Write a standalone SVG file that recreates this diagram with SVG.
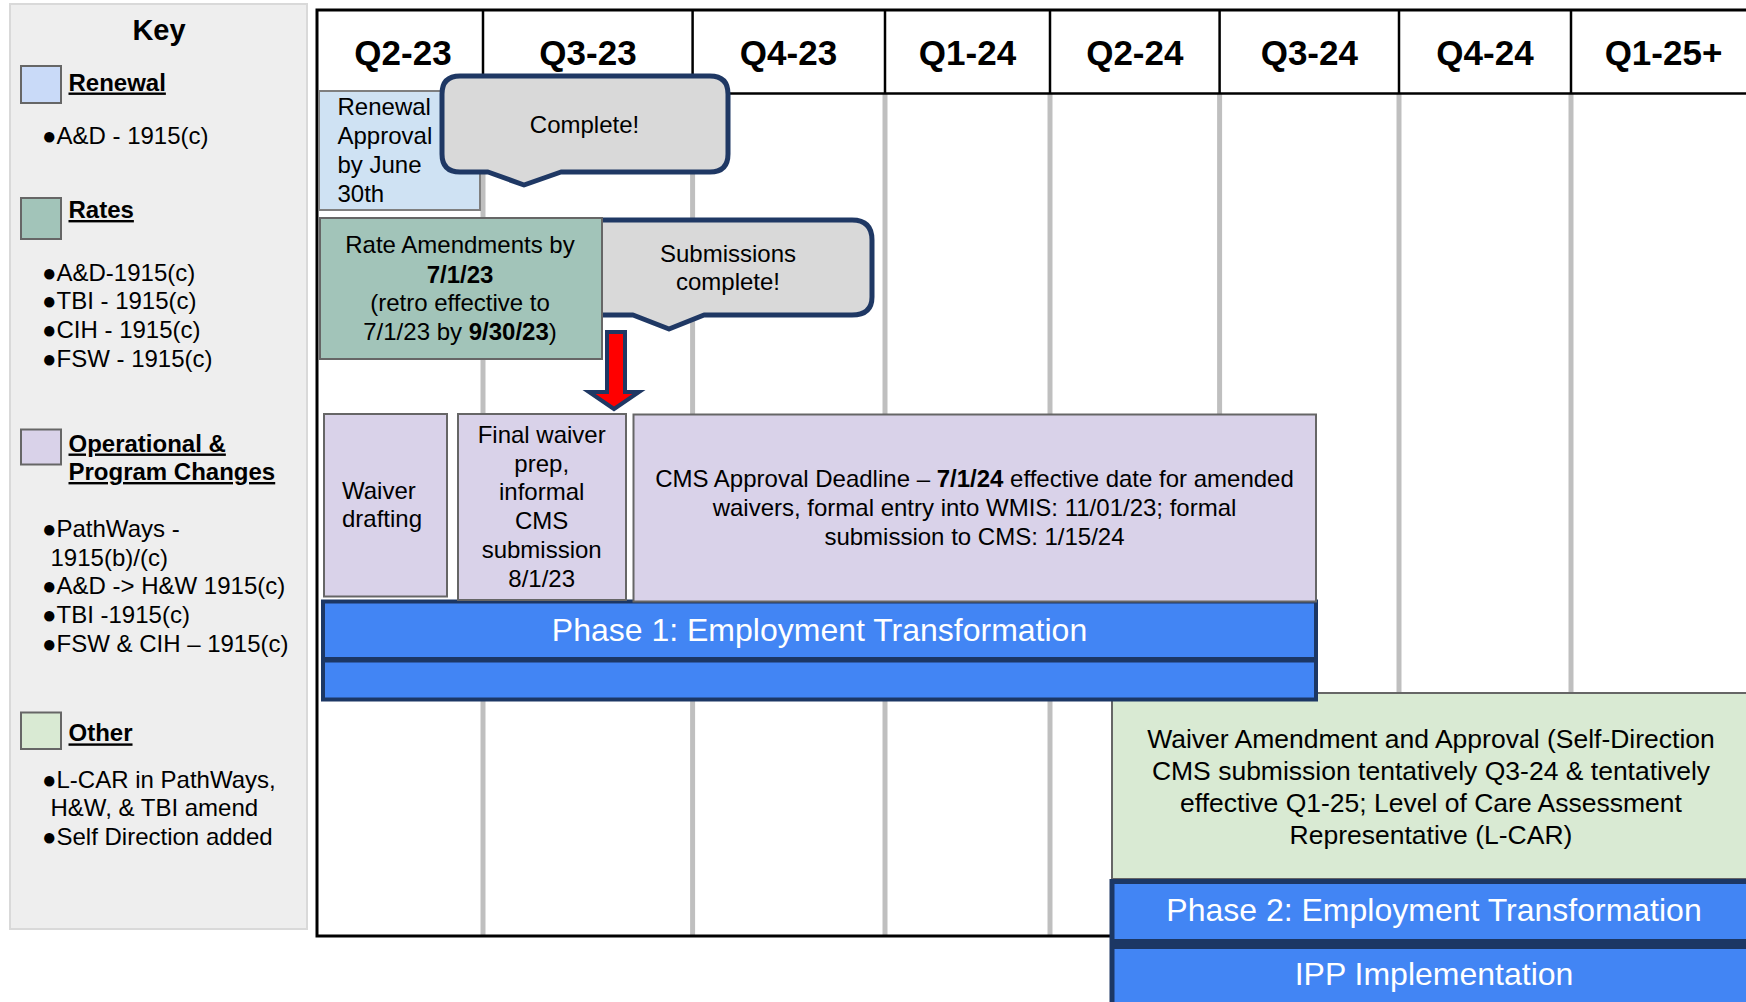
<svg xmlns="http://www.w3.org/2000/svg" width="1746" height="1002" viewBox="0 0 1746 1002">
<style>
text{font-family:"Liberation Sans",Arial,sans-serif;fill:#000}
.t{font-size:24px}
.c{text-anchor:middle}
.b{font-weight:bold}
.hd{font-size:35px;font-weight:bold;text-anchor:middle}
.lh{font-size:24px;font-weight:bold;text-decoration:underline}
.sw{stroke:#666;stroke-width:2}
.grey{stroke:#bfbfbf;stroke-width:5}
.blk{stroke:#000;stroke-width:2.5}
.callout{fill:#d9d9d9;stroke:#1f3864;stroke-width:5;stroke-linejoin:round}
.phase{fill:#4285f4;stroke:#1c3764}
.pt{font-size:32px;fill:#fff;text-anchor:middle}
.purple{fill:#d9d2e9}
</style>
<rect width="1746" height="1002" fill="#fff"/>

<g id="key">
<rect x="10" y="4" width="297" height="925" fill="#eeeeee" stroke="#d9d9d9" stroke-width="2"/>
<text x="159" y="39.5" class="b c" font-size="29">Key</text>
<rect x="21" y="66" width="40" height="37" fill="#c9daf8" class="sw"/>
<text x="68.5" y="90.5" class="lh">Renewal</text>
<text x="42" y="144" class="t">●A&amp;D - 1915(c)</text>
<rect x="21" y="198" width="40" height="41" fill="#a2c4b9" class="sw"/>
<text x="68.5" y="218" class="lh">Rates</text>
<text x="42" y="280.7" class="t">●A&amp;D-1915(c)</text>
<text x="42" y="309.3" class="t">●TBI - 1915(c)</text>
<text x="42" y="338" class="t">●CIH - 1915(c)</text>
<text x="42" y="366.7" class="t">●FSW - 1915(c)</text>
<rect x="21" y="429.5" width="40" height="35" fill="#d9d2e9" class="sw"/>
<text x="68.5" y="451.5" class="lh">Operational &amp;</text>
<text x="68.5" y="480" class="lh">Program Changes</text>
<text x="42" y="537.3" class="t">●PathWays -</text>
<text x="50.5" y="565.5" class="t">1915(b)/(c)</text>
<text x="42" y="594.3" class="t">●A&amp;D -&gt; H&amp;W 1915(c)</text>
<text x="42" y="623.2" class="t">●TBI -1915(c)</text>
<text x="42" y="652.4" class="t">●FSW &amp; CIH – 1915(c)</text>
<rect x="21" y="712.5" width="40" height="36.5" fill="#d9ead3" class="sw"/>
<text x="68.5" y="741.4" class="lh">Other</text>
<text x="42" y="787.9" class="t">●L-CAR in PathWays,</text>
<text x="50.5" y="816" class="t">H&amp;W, &amp; TBI amend</text>
<text x="42" y="845" class="t">●Self Direction added</text>
</g>

<g id="grid">
<g class="grey">
<line x1="483" y1="94" x2="483" y2="935"/>
<line x1="692.6" y1="94" x2="692.6" y2="935"/>
<line x1="885" y1="94" x2="885" y2="935"/>
<line x1="1050" y1="94" x2="1050" y2="935"/>
<line x1="1219.6" y1="94" x2="1219.6" y2="935"/>
<line x1="1399" y1="94" x2="1399" y2="935"/>
<line x1="1571" y1="94" x2="1571" y2="935"/>
</g>
<g class="blk">
<line x1="483" y1="10" x2="483" y2="93.5"/>
<line x1="692.6" y1="10" x2="692.6" y2="93.5"/>
<line x1="885" y1="10" x2="885" y2="93.5"/>
<line x1="1050" y1="10" x2="1050" y2="93.5"/>
<line x1="1219.6" y1="10" x2="1219.6" y2="93.5"/>
<line x1="1399" y1="10" x2="1399" y2="93.5"/>
<line x1="1571" y1="10" x2="1571" y2="93.5"/>
<line x1="317" y1="93.5" x2="1746" y2="93.5"/>
</g>
<path d="M1746 10 H317 V936 H1112" fill="none" stroke="#000" stroke-width="3"/>
<text x="403" y="65" class="hd">Q2-23</text>
<text x="588" y="65" class="hd">Q3-23</text>
<text x="788.5" y="65" class="hd">Q4-23</text>
<text x="967.5" y="65" class="hd">Q1-24</text>
<text x="1134.8" y="65" class="hd">Q2-24</text>
<text x="1309.3" y="65" class="hd">Q3-24</text>
<text x="1485" y="65" class="hd">Q4-24</text>
<text x="1663.5" y="65" class="hd">Q1-25+</text>
</g>

<g id="renewal">
<rect x="319" y="91" width="161" height="119" fill="#cfe2f3" stroke="#7f7f7f" stroke-width="2"/>
<text x="337.5" y="115" class="t">Renewal</text>
<text x="337.5" y="144" class="t">Approval</text>
<text x="337.5" y="173" class="t">by June</text>
<text x="337.5" y="202" class="t">30th</text>
</g>

<g id="complete-callout">
<path class="callout" d="M460 76 H710 Q728 76 728 94 V154 Q728 172 710 172 H561 L524 185 L488 172 H460 Q442 172 442 154 V94 Q442 76 460 76 Z"/>
<text x="584.5" y="133" class="t c">Complete!</text>
</g>

<g id="submissions-callout">
<path class="callout" d="M580 220 H852 Q872 220 872 240 V297 Q872 315 852 315 H704 L669 329 L633 315 H580 Q562 315 562 297 V240 Q562 220 580 220 Z"/>
<text x="728" y="262" class="t c">Submissions</text>
<text x="728" y="290" class="t c">complete!</text>
</g>

<g id="rates">
<rect x="320" y="218" width="282" height="141" fill="#a2c4b9" class="sw"/>
<text x="460" y="253" class="t c">Rate Amendments by</text>
<text x="460" y="282.5" class="t c b">7/1/23</text>
<text x="460" y="311" class="t c">(retro effective to</text>
<text x="460" y="339.5" class="t c">7/1/23 by <tspan class="b">9/30/23</tspan>)</text>
</g>

<g id="connectors">
<polygon points="607,332 625,332 625,392 639,392 614,409 589,392 607,392" fill="#ff0000" stroke="#1f3864" stroke-width="4"/>
</g>

<g id="other">
<rect x="1112" y="693" width="660" height="186" fill="#d9ead3" class="sw"/>
<text x="1431" y="748" class="c" font-size="26.5">Waiver Amendment and Approval (Self-Direction</text>
<text x="1431" y="780" class="c" font-size="26.5">CMS submission tentatively Q3-24 &amp; tentatively</text>
<text x="1431" y="812" class="c" font-size="26.5">effective Q1-25; Level of Care Assessment</text>
<text x="1431" y="844" class="c" font-size="26.5">Representative (L-CAR)</text>
</g>

<g id="phase1">
<rect x="323" y="601.5" width="993" height="57.5" class="phase" stroke-width="4"/>
<rect x="323" y="660.5" width="993" height="39" class="phase" stroke-width="4"/>
<text x="819.5" y="641" class="pt">Phase 1: Employment Transformation</text>
</g>

<g id="waiver-drafting">
<rect x="324" y="414" width="123" height="182.5" class="purple sw"/>
<text x="342" y="499.3" class="t">Waiver</text>
<text x="342" y="526.7" class="t">drafting</text>
</g>

<g id="final-waiver">
<rect x="458" y="414" width="168" height="186" class="purple sw"/>
<text x="541.7" y="443.3" class="t c">Final waiver</text>
<text x="541.7" y="471.7" class="t c">prep,</text>
<text x="541.7" y="500" class="t c">informal</text>
<text x="541.7" y="529.3" class="t c">CMS</text>
<text x="541.7" y="558.3" class="t c">submission</text>
<text x="541.7" y="587.3" class="t c">8/1/23</text>
</g>

<g id="cms-approval">
<rect x="633.5" y="414.5" width="682.5" height="187" class="purple sw"/>
<text x="974.5" y="487.3" class="t c">CMS Approval Deadline – <tspan class="b">7/1/24</tspan> effective date for amended</text>
<text x="974.5" y="516.3" class="t c">waivers, formal entry into WMIS: 11/01/23; formal</text>
<text x="974.5" y="545" class="t c">submission to CMS: 1/15/24</text>
</g>

<g id="phase2">
<rect x="1112" y="881.5" width="700" height="60" class="phase" stroke-width="5"/>
<text x="1434" y="921" class="pt">Phase 2: Employment Transformation</text>
</g>

<g id="ipp">
<rect x="1112" y="946.5" width="700" height="70" class="phase" stroke-width="5"/>
<text x="1434" y="985" class="pt">IPP Implementation</text>
</g>
</svg>
